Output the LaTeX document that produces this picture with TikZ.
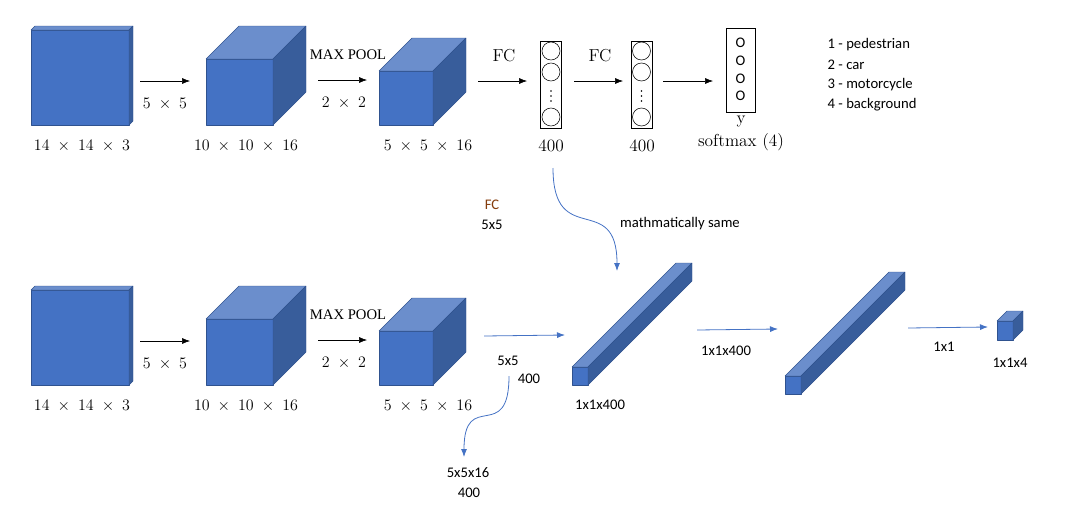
\documentclass[tikz,border=0pt]{standalone}
\usepackage{fontspec}
\usepackage{amsmath}
\newfontfamily\calib{Carlito}
\newfontfamily\timesf{Liberation Serif}
\usepackage{tikz}
\usetikzlibrary{arrows.meta}
\definecolor{cubefront}{HTML}{4472C4}
\definecolor{cubetop}{HTML}{6B8ECC}
\definecolor{cubeside}{HTML}{385D9B}
\definecolor{cubeedge}{HTML}{2F528F}
\definecolor{linkblue}{HTML}{4472C4}
\definecolor{notebrown}{HTML}{843C0C}

\newcommand{\cuboid}[5]{%
\filldraw[cubeline,fill=cubefront] (#1,#2) rectangle ++(#3,#4);
\filldraw[cubeline,fill=cubetop] (#1,#2) -- ++(#5,-#5) -- ++(#3,0) -- ++(-#5,#5) -- cycle;
\filldraw[cubeline,fill=cubeside] (#1+#3,#2) -- ++(#5,-#5) -- ++(0,#4) -- ++(-#5,#5) -- cycle;
}

\begin{document}
\begin{tikzpicture}[x=0.75pt,y=-0.75pt,
cubeline/.style={draw=cubeedge,line width=0.3pt,line join=round},
dimlabel/.style={font=\fontsize{13}{15}\selectfont},
oplabel/.style={font=\timesf\fontsize{11}{13}\selectfont},
notelabel/.style={font=\calib\fontsize{11}{13}\selectfont},
plainarrow/.style={-{Latex[length=6pt,width=4.5pt]},line width=0.4pt},
bluearrow/.style={-{Latex[length=6pt,width=4.5pt]},draw=linkblue,line width=0.6pt},
neuron/.style={circle,draw,minimum size=13.5pt,inner sep=0pt},
layerbox/.style={draw,minimum width=15.75pt,minimum height=65.25pt,inner sep=0pt}]
\useasboundingbox (0,0) rectangle (1071,518);

\foreach \row in {0,260}{
\begin{scope}[shift={(0,\row)}]
\cuboid{31}{30}{98}{95}{4}
\cuboid{206}{59}{67}{66}{33}
\cuboid{379}{71}{54}{54}{33}
\node[dimlabel] (in\row) at (82,146) {$14\;\times\;14\;\times\;3$};
\node[dimlabel] (conv\row) at (246,146) {$10\;\times\;10\;\times\;16$};
\node[dimlabel] (pool\row) at (428,146) {$5\;\times\;5\;\times\;16$};
\coordinate (ca\row) at (140,81);
\coordinate (cb\row) at (190,81);
\draw[plainarrow] (ca\row) -- (cb\row);
\node[dimlabel] (k\row) at (165,104) {$5\;\times\;5$};
\node[oplabel] (mp\row) at (348,55) {MAX POOL};
\coordinate (pa\row) at (318,80);
\coordinate (pb\row) at (367,80);
\draw[plainarrow] (pa\row) -- (pb\row);
\node[dimlabel] (f\row) at (344,103) {$2\;\times\;2$};
\end{scope}
}

\coordinate (fa) at (478,81);
\coordinate (fb) at (527,81);
\draw[plainarrow] (fa) -- (fb);
\node[dimlabel] (fc1) at (504,56) {FC};
\node[layerbox] (h1) at (551,84.5) {};
\foreach \cy in {51,72,117}
  \node[neuron] (h1n\cy) at (551,\cy) {};
\foreach \dy in {91,96,101}
  \fill (551,\dy) circle (0.9);
\node[dimlabel] (h1l) at (551,146) {400};

\coordinate (ga) at (574,81);
\coordinate (gb) at (623,81);
\draw[plainarrow] (ga) -- (gb);
\node[dimlabel] (fc2) at (600,56) {FC};
\node[layerbox] (h2) at (641.5,84.5) {};
\foreach \cy in {51,72,117}
  \node[neuron] (h2n\cy) at (641.5,\cy) {};
\foreach \dy in {91,96,101}
  \fill (641.5,\dy) circle (0.9);
\node[dimlabel] (h2l) at (642,146) {400};

\coordinate (oa) at (663,81);
\coordinate (ob) at (713,81);
\draw[plainarrow] (oa) -- (ob);
\node[draw,minimum width=21.75pt,minimum height=63pt,inner sep=0pt] (out) at (740.5,70) {};
\foreach \cy in {43,61,79,96}
  \node[notelabel] (o\cy) at (740.5,\cy) {O};
\node[dimlabel] (yl) at (741,122) {y};
\node[dimlabel] (sm) at (741,142) {softmax (4)};
\foreach \i/\cls in {1/pedestrian,2/car,3/motorcycle,4/background}
  \node[notelabel,anchor=west] (cls\i) at (823,25+20*\i) {\i\ - \cls};

\coordinate (tc) at (553,168);
\coordinate (td) at (617,271);
\draw[bluearrow] (tc) .. controls (553,250) and (617,190) .. (td);
\node[notelabel,text=notebrown] (fcn) at (492,205) {FC};
\node[notelabel] (fck) at (492,225) {5x5};
\node[notelabel] (same) at (680,224) {mathmatically same};

\coordinate (ba) at (484,336);
\coordinate (bb) at (565,335);
\draw[bluearrow] (ba) -- (bb);
\node[notelabel] (bk) at (508,361) {5x5};
\node[notelabel] (bn) at (529,379) {400};
\coordinate (bc) at (509,376);
\coordinate (bd) at (464,457);
\draw[bluearrow] (bc) .. controls (509,445) and (464,388) .. (bd);
\node[notelabel] (fk) at (468,473) {5x5x16};
\node[notelabel] (fn) at (469,493) {400};

\cuboid{572}{367}{16}{18}{104}
\node[notelabel] (bar1l) at (600,405) {1x1x400};
\coordinate (ea) at (697,330);
\coordinate (eb) at (778,329);
\draw[bluearrow] (ea) -- (eb);
\node[notelabel] (el) at (726,351) {1x1x400};
\cuboid{785}{376}{16}{18}{104}
\coordinate (ua) at (908,328);
\coordinate (ub) at (988,327);
\draw[bluearrow] (ua) -- (ub);
\node[notelabel] (ul) at (944,347) {1x1};
\cuboid{997}{321}{16}{19}{10}
\node[notelabel] (outl) at (1010,363) {1x1x4};
\end{tikzpicture}
\end{document}
